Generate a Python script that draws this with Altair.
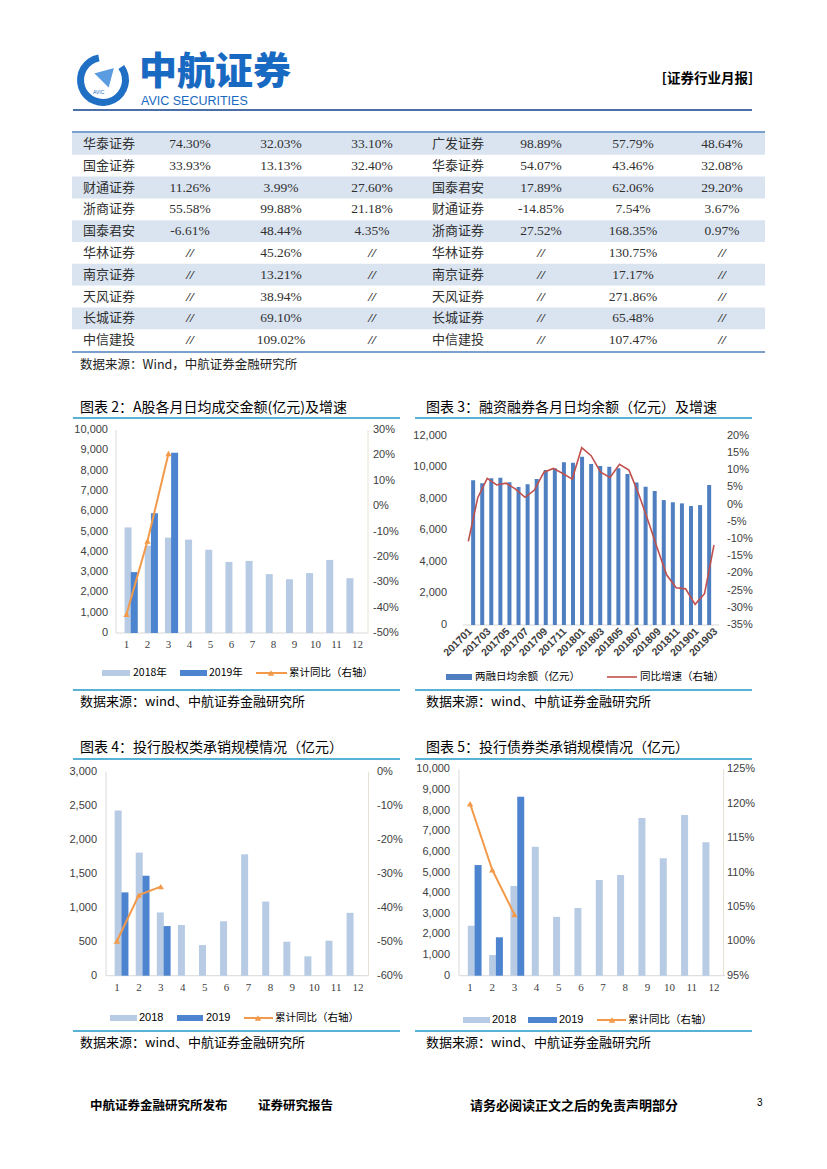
import altair as alt
import pandas as pd

# ---------------- data ----------------
tbl_name_l = ["华泰证券", "国金证券", "财通证券", "浙商证券", "国泰君安", "华林证券", "南京证券", "天风证券", "长城证券", "中信建投"]
tbl_c1 = ["74.30%", "33.93%", "11.26%", "55.58%", "-6.61%", "//", "//", "//", "//", "//"]
tbl_c2 = ["32.03%", "13.13%", "3.99%", "99.88%", "48.44%", "45.26%", "13.21%", "38.94%", "69.10%", "109.02%"]
tbl_c3 = ["33.10%", "32.40%", "27.60%", "21.18%", "4.35%", "//", "//", "//", "//", "//"]
tbl_name_r = ["广发证券", "华泰证券", "国泰君安", "财通证券", "浙商证券", "华林证券", "南京证券", "天风证券", "长城证券", "中信建投"]
tbl_c5 = ["98.89%", "54.07%", "17.89%", "-14.85%", "27.52%", "//", "//", "//", "//", "//"]
tbl_c6 = ["57.79%", "43.46%", "62.06%", "7.54%", "168.35%", "130.75%", "17.17%", "271.86%", "65.48%", "107.47%"]
tbl_c7 = ["48.64%", "32.08%", "29.20%", "3.67%", "0.97%", "//", "//", "//", "//", "//"]

months = [1, 2, 3, 4, 5, 6, 7, 8, 9, 10, 11, 12]
month_labels = ["1", "2", "3", "4", "5", "6", "7", "8", "9", "10", "11", "12"]

# chart 2: A股日均成交额
c2_2018 = [5200, 4300, 4700, 4600, 4100, 3500, 3550, 2900, 2650, 2950, 3600, 2700]
c2_2019 = [3000, 5900, 8880]
c2_yoy = [-42.6, -13.7, 20.7]
c2_lt = [0, 1000, 2000, 3000, 4000, 5000, 6000, 7000, 8000, 9000, 10000]
c2_ll = ["0", "1,000", "2,000", "3,000", "4,000", "5,000", "6,000", "7,000", "8,000", "9,000", "10,000"]
c2_rt = [-50, -40, -30, -20, -10, 0, 10, 20, 30]
c2_rl = ["-50%", "-40%", "-30%", "-20%", "-10%", "0%", "10%", "20%", "30%"]

# chart 3: 两融日均余额
c3_periods = ["201701", "201702", "201703", "201704", "201705", "201706", "201707", "201708", "201709",
              "201710", "201711", "201712", "201801", "201802", "201803", "201804", "201805", "201806",
              "201807", "201808", "201809", "201810", "201811", "201812", "201901", "201902", "201903"]
c3_balance = [9170, 8980, 9300, 9330, 9050, 8750, 8930, 9250, 9820, 9930, 10310, 10290, 10660,
              10200, 10080, 10030, 9930, 9570, 9040, 8770, 8490, 7920, 7780, 7710, 7540, 7600, 8870]
c3_yoy = [-10.7, 2.0, 7.6, 5.7, 6.2, 4.5, 2.1, 4.2, 9.4, 10.5, 9.0, 7.4, 16.5, 14.2, 9.4, 7.9,
          11.7, 10.0, 3.3, -4.5, -12.7, -20.5, -24.2, -24.5, -29.0, -25.9, -11.8]
c3_lt = [0, 2000, 4000, 6000, 8000, 10000, 12000]
c3_ll = ["0", "2,000", "4,000", "6,000", "8,000", "10,000", "12,000"]
c3_rt = [-35, -30, -25, -20, -15, -10, -5, 0, 5, 10, 15, 20]
c3_rl = ["-35%", "-30%", "-25%", "-20%", "-15%", "-10%", "-5%", "0%", "5%", "10%", "15%", "20%"]

# chart 4: 投行股权类承销
c4_2018 = [2430, 1810, 930, 745, 450, 800, 1785, 1090, 500, 285, 515, 925]
c4_2019 = [1225, 1470, 730]
c4_yoy = [-49.8, -36.3, -33.8]
c4_lt = [0, 500, 1000, 1500, 2000, 2500, 3000]
c4_ll = ["0", "500", "1,000", "1,500", "2,000", "2,500", "3,000"]
c4_rt = [-60, -50, -40, -30, -20, -10, 0]
c4_rl = ["-60%", "-50%", "-40%", "-30%", "-20%", "-10%", "0%"]

# chart 5: 投行债券类承销
c5_2018 = [2420, 1000, 4350, 6250, 2850, 3280, 4640, 4880, 7640, 5690, 7790, 6460]
c5_2019 = [5360, 1860, 8670]
c5_yoy = [120.0, 110.4, 103.9]
c5_lt = [0, 1000, 2000, 3000, 4000, 5000, 6000, 7000, 8000, 9000, 10000]
c5_ll = ["0", "1,000", "2,000", "3,000", "4,000", "5,000", "6,000", "7,000", "8,000", "9,000", "10,000"]
c5_rt = [95, 100, 105, 110, 115, 120, 125]
c5_rl = ["95%", "100%", "105%", "110%", "115%", "120%", "125%"]

# ---------------- style ----------------
CJK = "Noto Sans CJK SC"
SANS = "Liberation Sans"
SERIF = "Liberation Serif"
LIGHT = "#b7cbe5"
DARK = "#4d84cf"
ORANGE = "#f29a4a"
BAR3 = "#4f7fc0"
RED = "#c0504d"
TEAL = "#58b2d6"
AXIS = "#d9d9d9"
TICK = "#404040"
W, H = 811, 1140

ONE = pd.DataFrame({"k": [0]})


def P(v):
    return v - 8


def txt(s, x, y, size=12, color="#000000", font=CJK, weight="normal", align="left", baseline="middle"):
    return alt.Chart(ONE).mark_text(text=s, fontSize=size, color=color, font=font, fontWeight=weight,
                                    align=align, baseline=baseline).encode(x=alt.value(P(x)), y=alt.value(P(y)))


def hline(x1, x2, y, color, w=1.0):
    return alt.Chart(ONE).mark_rule(color=color, strokeWidth=w).encode(
        x=alt.value(P(x1)), x2=alt.value(P(x2)), y=alt.value(P(y)))


def vline(x, y1, y2, color, w=1.0):
    return alt.Chart(ONE).mark_rule(color=color, strokeWidth=w).encode(
        x=alt.value(P(x)), y=alt.value(P(y1)), y2=alt.value(P(y2)))


def box(x1, x2, y1, y2, color):
    return alt.Chart(ONE).mark_rect(color=color).encode(
        x=alt.value(P(x1)), x2=alt.value(P(x2)), y=alt.value(P(y1)), y2=alt.value(P(y2)))


def sc(dom, a, b):
    return alt.Scale(domain=dom, range=[P(a), P(b)], nice=False, zero=False)


def bars(cats, vals, xs, ys, color, width, off):
    df = pd.DataFrame({"c": cats[:len(vals)], "v": vals, "z": [0] * len(vals)})
    return alt.Chart(df).mark_bar(color=color, width=width, xOffset=off).encode(
        x=alt.X("c:Q", scale=xs, axis=None), y=alt.Y("v:Q", scale=ys, axis=None), y2="z")


def line(cats, vals, xs, ys, color, w, point=0):
    df = pd.DataFrame({"c": cats[:len(vals)], "p": vals})
    kw = {}
    if point:
        kw["point"] = alt.OverlayMarkDef(shape="triangle-up", size=point, color=color, filled=True)
    return alt.Chart(df).mark_line(color=color, strokeWidth=w, **kw).encode(
        x=alt.X("c:Q", scale=xs, axis=None), y=alt.Y("p:Q", scale=ys, axis=None))


def yticks(vals, labels, ys, x, align, size=11, font=SANS):
    df = pd.DataFrame({"v": vals, "t": labels})
    return alt.Chart(df).mark_text(align=align, baseline="middle", fontSize=size, font=font, color=TICK).encode(
        x=alt.value(P(x)), y=alt.Y("v:Q", scale=ys, axis=None), text="t:N")


def xticks(cats, labels, xs, y, size=11, font=SERIF, angle=0, align="center", weight="normal", dx=0):
    df = pd.DataFrame({"c": cats, "t": labels})
    return alt.Chart(df).mark_text(align=align, baseline="middle", fontSize=size, font=font, color=TICK,
                                   angle=angle, fontWeight=weight, dx=dx).encode(
        x=alt.X("c:Q", scale=xs, axis=None), y=alt.value(P(y)), text="t:N")


layers = []

# ---------------- header ----------------
layers.append(alt.Chart(ONE).mark_arc(color="#1f6fc5").encode(
    x=alt.value(P(103)), y=alt.value(P(80)), theta=alt.value(0.95), theta2=alt.value(6.1),
    radius=alt.value(26), radius2=alt.value(19)))
layers.append(alt.Chart(ONE).mark_point(shape="triangle-right", filled=True, size=520, angle=315,
                                        color="#5b9be0", stroke="white", strokeWidth=1.5, opacity=1).encode(
    x=alt.value(P(108)), y=alt.value(P(74))))
layers.append(txt("AVIC", 93, 92, size=5, color="#1f6fc5", font=SANS))
layers.append(txt("中航证券", 139, 73, size=38, color="#1769c1", weight=900))
layers.append(txt("AVIC SECURITIES", 141, 101, size=12.5, color="#1769c1", font=SANS))
layers.append(txt("[证券行业月报]", 753, 79, size=13.5, weight="bold", align="right"))
layers.append(hline(73, 752, 110, "#4d6fa7", 2))

# ---------------- table ----------------
row_idx = list(range(len(tbl_name_l)))
ys_t = sc([-0.5, 9.5], 133, 351)
shade = pd.DataFrame({"a": [i - 0.5 for i in row_idx if i % 2 == 0], "b": [i + 0.5 for i in row_idx if i % 2 == 0]})
layers.append(alt.Chart(shade).mark_rect(color="#dae4f1").encode(
    x=alt.value(P(72)), x2=alt.value(P(765)),
    y=alt.Y("a:Q", scale=ys_t, axis=None), y2="b"))
layers.append(hline(72, 765, 132, "#4f81bd", 1.5))
layers.append(hline(72, 765, 352, "#4f81bd", 1.5))

col_x = [109, 190, 281, 372, 458, 541, 633, 722]
cols = [tbl_name_l, tbl_c1, tbl_c2, tbl_c3, tbl_name_r, tbl_c5, tbl_c6, tbl_c7]
for j, col in enumerate(cols):
    is_name = j in (0, 4)
    df = pd.DataFrame({"r": row_idx, "t": col})
    if is_name:
        layers.append(alt.Chart(df).mark_text(
            align="center", baseline="middle", fontSize=13, font=CJK, color="#303030").encode(
            x=alt.value(P(col_x[j])), y=alt.Y("r:Q", scale=ys_t, axis=None), text="t:N"))
    else:
        num = df[df["t"] != "//"]
        sl = df[df["t"] == "//"]
        layers.append(alt.Chart(num).mark_text(
            align="center", baseline="middle", fontSize=13.5, font=SERIF, color="#303030").encode(
            x=alt.value(P(col_x[j])), y=alt.Y("r:Q", scale=ys_t, axis=None), text="t:N"))
        if len(sl):
            layers.append(alt.Chart(sl).mark_text(
                align="center", baseline="middle", fontSize=13.5, font=SERIF, fontStyle="italic",
                fontWeight="bold", color="#303030").encode(
                x=alt.value(P(col_x[j])), y=alt.Y("r:Q", scale=ys_t, axis=None), text="t:N"))

layers.append(txt("数据来源：Wind，中航证券金融研究所", 80, 365, size=12.5, color="#222222"))

# ---------------- chart 2 ----------------
xs2 = sc([0.5, 12.5], 116, 368)
ys2 = sc([0, 10000], 633, 430)
rs2 = sc([-50, 30], 633, 430)
layers += [
    txt("图表 2：A股各月日均成交金额(亿元)及增速", 80, 408, size=14),
    hline(73, 400, 418, TEAL, 2),
    vline(116, 430, 633, AXIS), vline(368, 430, 633, "#e8e2d4"), hline(116, 368, 633, AXIS),
    bars(months, c2_2018, xs2, ys2, LIGHT, 7, -3),
    bars(months, c2_2019, xs2, ys2, DARK, 7, 3.2),
    line(months, c2_yoy, xs2, rs2, ORANGE, 2, 40),
    yticks(c2_lt, c2_ll, ys2, 108, "right"),
    yticks(c2_rt, c2_rl, rs2, 373, "left"),
    xticks(months, month_labels, xs2, 645),
    box(102, 130, 670, 676, LIGHT), txt("2018年", 133, 673, size=10.5),
    box(180, 207, 670, 676, DARK), txt("2019年", 209, 673, size=10.5),
    hline(256, 287, 673, ORANGE, 2),
    txt("累计同比（右轴）", 289, 673, size=10.5),
    hline(73, 400, 690, TEAL, 2),
    txt("数据来源：wind、中航证券金融研究所", 80, 702, size=13),
]
layers.append(alt.Chart(ONE).mark_point(shape="triangle-up", filled=True, size=40, color=ORANGE, opacity=1).encode(
    x=alt.value(P(271)), y=alt.value(P(673))))

# ---------------- chart 3 ----------------
idx3 = list(range(len(c3_periods)))
xs3 = sc([-0.5, 26.5], 463.6, 718.7)
ys3 = sc([0, 12000], 625, 435.7)
rs3 = sc([-35, 20], 625, 435.7)
layers += [
    txt("图表 3：融资融券各月日均余额（亿元）及增速", 426, 408, size=14),
    hline(415, 752, 418, TEAL, 2),
    hline(463, 719, 625, AXIS),
    bars(idx3, c3_balance, xs3, ys3, BAR3, 4, 0),
    line(idx3, c3_yoy, xs3, rs3, RED, 1.6),
    yticks(c3_lt, c3_ll, ys3, 447, "right"),
    yticks(c3_rt, c3_rl, rs3, 727, "left"),
    xticks(idx3[::2], c3_periods[::2], xs3, 632, size=10.5, font=SANS, angle=315, align="right",
           weight="bold", dx=3),
    box(446, 472, 674, 680, BAR3), txt("两融日均余额（亿元）", 475, 677, size=10.5),
    hline(607, 637, 677, RED, 1.6), txt("同比增速（右轴）", 640, 677, size=10.5),
    hline(415, 752, 690, TEAL, 2),
    txt("数据来源：wind、中航证券金融研究所", 426, 702, size=13),
]

# ---------------- chart 4 ----------------
xs4 = sc([0.5, 12.5], 106, 369)
ys4 = sc([0, 3000], 975.7, 771.7)
rs4 = sc([-60, 0], 975.7, 771.7)
layers += [
    txt("图表 4：投行股权类承销规模情况（亿元）", 80, 748, size=14),
    hline(73, 400, 759, TEAL, 2),
    vline(106, 771.7, 975.7, AXIS), vline(368.5, 771.7, 975.7, "#e8e2d4"), hline(106, 369, 975.7, AXIS),
    bars(months, c4_2018, xs4, ys4, LIGHT, 7, -3.4),
    bars(months, c4_2019, xs4, ys4, DARK, 7, 3.4),
    line(months, c4_yoy, xs4, rs4, ORANGE, 2, 40),
    yticks(c4_lt, c4_ll, ys4, 97, "right"),
    yticks(c4_rt, c4_rl, rs4, 377, "left"),
    xticks(months, month_labels, xs4, 988),
    box(110, 137, 1015, 1021, LIGHT), txt("2018", 139, 1018, size=11, font=SANS),
    box(177, 203, 1015, 1021, DARK), txt("2019", 206, 1018, size=11, font=SANS),
    hline(244, 273, 1018, ORANGE, 2),
    txt("累计同比（右轴）", 275, 1018, size=10.5),
    hline(73, 400, 1031, TEAL, 2),
    txt("数据来源：wind、中航证券金融研究所", 80, 1043, size=13),
]
layers.append(alt.Chart(ONE).mark_point(shape="triangle-up", filled=True, size=40, color=ORANGE, opacity=1).encode(
    x=alt.value(P(258)), y=alt.value(P(1018))))

# ---------------- chart 5 ----------------
xs5 = sc([0.5, 12.5], 459, 725)
ys5 = sc([0, 10000], 975.7, 769.3)
rs5 = sc([95, 125], 975.7, 769.3)
layers += [
    txt("图表 5：投行债券类承销规模情况（亿元）", 426, 748, size=14),
    hline(415, 752, 759, TEAL, 2),
    vline(459, 769.3, 975.7, AXIS), vline(723.5, 769.3, 975.7, "#e8e2d4"), hline(459, 725, 975.7, AXIS),
    bars(months, c5_2018, xs5, ys5, LIGHT, 7, -3.4),
    bars(months, c5_2019, xs5, ys5, DARK, 7, 3.4),
    line(months, c5_yoy, xs5, rs5, ORANGE, 2, 40),
    yticks(c5_lt, c5_ll, ys5, 450, "right"),
    yticks(c5_rt, c5_rl, rs5, 727, "left"),
    xticks(months, month_labels, xs5, 988),
    box(463, 490, 1017, 1023, LIGHT), txt("2018", 492, 1020, size=11, font=SANS),
    box(528, 557, 1017, 1023, DARK), txt("2019", 559, 1020, size=11, font=SANS),
    hline(597, 626, 1020, ORANGE, 2),
    txt("累计同比（右轴）", 628, 1020, size=10.5),
    hline(415, 752, 1031, TEAL, 2),
    txt("数据来源：wind、中航证券金融研究所", 426, 1043, size=13),
]
layers.append(alt.Chart(ONE).mark_point(shape="triangle-up", filled=True, size=40, color=ORANGE, opacity=1).encode(
    x=alt.value(P(612)), y=alt.value(P(1020))))

# ---------------- footer ----------------
layers += [
    txt("中航证券金融研究所发布", 90, 1106, size=12.5, weight="bold"),
    txt("证券研究报告", 258, 1106, size=12.5, weight="bold"),
    txt("请务必阅读正文之后的免责声明部分", 470, 1106, size=13, weight="bold"),
    txt("3", 757, 1103, size=10, font=SANS),
]

chart = alt.layer(*layers).resolve_scale(x="independent", y="independent").properties(
    width=W, height=H, padding=0, autosize=alt.AutoSizeParams(type="none"), background="white"
).configure_view(strokeWidth=0)

chart.save("out.html", embed_options={"renderer": "svg", "actions": False})
